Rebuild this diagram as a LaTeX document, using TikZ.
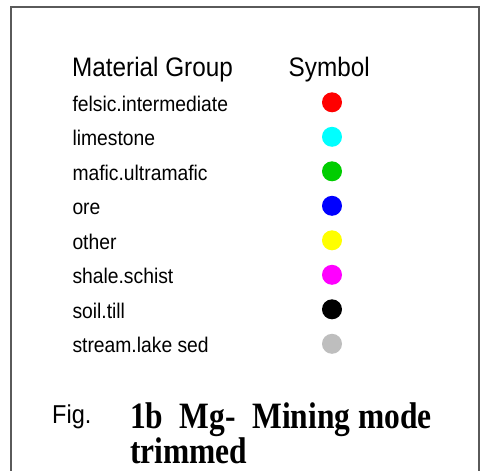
\documentclass[tikz,border=0pt]{standalone}
\usepackage{fontspec}
\setmainfont{Liberation Sans}
\newfontfamily\timesfont{Liberation Serif}
\definecolor{framegray}{HTML}{5A5A5A}
\definecolor{dotred}{HTML}{FF0000}
\definecolor{dotcyan}{HTML}{00FFFF}
\definecolor{dotgreen}{HTML}{00CD00}
\definecolor{dotblue}{HTML}{0000FF}
\definecolor{dotyellow}{HTML}{FFFF00}
\definecolor{dotmagenta}{HTML}{FF00FF}
\definecolor{dotblack}{HTML}{000000}
\definecolor{dotgray}{HTML}{BEBEBE}
\newcommand{\tallA}[1]{\scalebox{1}[1.1]{#1}}
\newcommand{\tallB}[1]{\scalebox{1}[1.18]{#1}}
\begin{document}
\begin{tikzpicture}[x=1pt,y=-1pt,
  headtxt/.style={anchor=base west,inner sep=0pt,font=\fontsize{24.3}{29}\selectfont},
  rowtxt/.style={anchor=base west,inner sep=0pt,font=\fontsize{19.3}{23}\selectfont},
  figtxt/.style={anchor=base west,inner sep=0pt,font=\fontsize{23.5}{28}\selectfont},
  titletxt/.style={anchor=base west,inner sep=0pt,font=\timesfont\bfseries\fontsize{31.5}{28}\selectfont},
  dot/.style={circle,inner sep=0pt,minimum size=20pt,draw=none}]
\useasboundingbox (0,0) rectangle (483,471);
\fill[white] (0,0) rectangle (483,471);
\coordinate (fbl) at (11,471);
\coordinate (ftl) at (11,7);
\coordinate (ftr) at (479,7);
\coordinate (fbr) at (479,471);
\draw[framegray,line width=1.6pt] (fbl) -- (ftl) -- (ftr) -- (fbr);
\node[headtxt] (hmat) at (72,76.7) {\tallA{Material Group}};
\node[headtxt] (hsym) at (288.5,76.7) {\tallA{Symbol}};
\foreach \i/\lab/\col in {0/felsic.intermediate/dotred,1/limestone/dotcyan,2/mafic.ultramafic/dotgreen,3/ore/dotblue,4/other/dotyellow,5/shale.schist/dotmagenta,6/soil.till/dotblack,7/stream.lake sed/dotgray}{
  \pgfmathsetmacro{\cy}{102.3+34.5*\i}
  \node[rowtxt] (lab\i) at (72.3,\cy+9) {\tallA{\lab}};
  \node[dot,fill=\col] (sym\i) at (332,\cy) {};
}
\node[figtxt] (fig) at (52,423.3) {\tallA{Fig.}};
\node[titletxt] (t1) at (130,428.5) {\tallB{1b\hspace{16.5pt}Mg-\hspace{16.5pt}Mining mode}};
\node[titletxt] (t2) at (130,463) {\tallB{trimmed}};
\end{tikzpicture}
\end{document}
